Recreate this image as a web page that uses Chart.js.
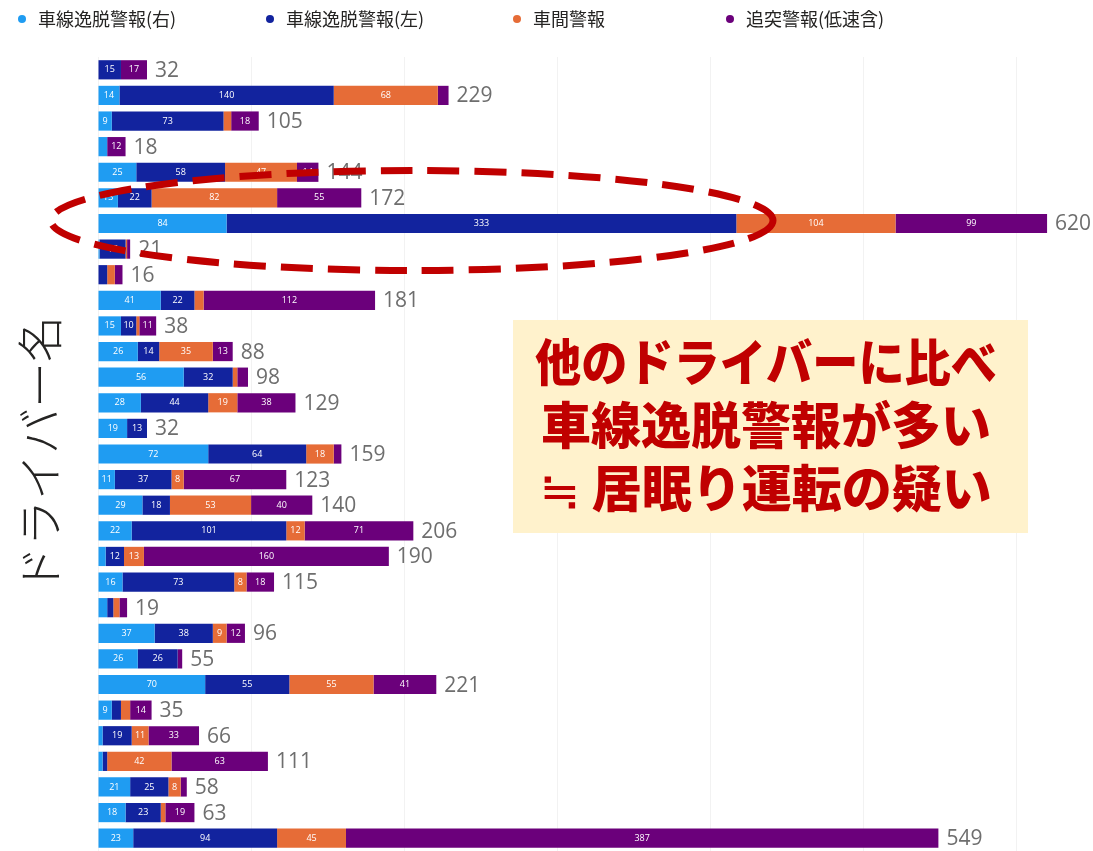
<!DOCTYPE html>
<html lang="ja">
<head>
<meta charset="utf-8">
<script src="https://cdn.jsdelivr.net/npm/chart.js@4.4.1/dist/chart.umd.min.js"></script>
<style>
    html, body { margin: 0; padding: 0; background: #fff; }
    .wrap { width: 1093px; height: 851px; position: relative; }
</style>
</head>
<body>
<div class="wrap"><canvas id="chart"></canvas></div>
<script>
const drivers = [
    'D01', 'D02', 'D03', 'D04', 'D05', 'D06', 'D07', 'D08', 'D09', 'D10',
    'D11', 'D12', 'D13', 'D14', 'D15', 'D16', 'D17', 'D18', 'D19', 'D20',
    'D21', 'D22', 'D23', 'D24', 'D25', 'D26', 'D27', 'D28', 'D29', 'D30', 'D31',
];

const laneRight = [0, 14, 9, 6, 25, 13, 84, 1, 0, 41, 15, 26, 56, 28, 19, 72, 11, 29, 22, 5, 16, 6, 37, 26, 70, 9, 3, 3, 21, 18, 23];
const laneLeft = [15, 140, 73, 0, 58, 22, 333, 17, 6, 22, 10, 14, 32, 44, 13, 64, 37, 18, 101, 12, 73, 4, 38, 26, 55, 6, 19, 3, 25, 23, 94];
const headway = [0, 68, 5, 0, 47, 82, 104, 1, 5, 6, 2, 35, 3, 19, 0, 18, 8, 53, 12, 13, 8, 4, 9, 0, 55, 6, 11, 42, 8, 3, 45];
const collision = [17, 7, 18, 12, 14, 55, 99, 2, 5, 112, 11, 13, 7, 38, 0, 5, 67, 40, 71, 160, 18, 5, 12, 3, 41, 14, 33, 63, 4, 19, 387];

const seriesNames = ['車線逸脱警報(右)', '車線逸脱警報(左)', '車間警報', '追突警報(低速含)'];
const noteLines = ['他のドライバーに比べ', '車線逸脱警報が多い', '≒ 居眠り運転の疑い'];
const highlightIndex = 6;

const colors = {
    laneRight: '#1f9cf2',
    laneLeft: '#12239e',
    headway: '#e66c37',
    collision: '#6b007b',
    total: '#6e6e6e',
    note: '#c00000',
    noteBg: '#fff2cc',
};

// legend row drawn on the canvas so the item spacing matches the report
const legendRow = {
    id: 'legendRow',
    afterDraw(chart) {
        const { ctx } = chart;
        const xs = [22, 270, 517, 730];
        ctx.save();
        ctx.font = '18px "Noto Sans CJK JP"';
        ctx.textBaseline = 'middle';
        chart.data.datasets.forEach((ds, i) => {
            ctx.fillStyle = ds.backgroundColor;
            ctx.beginPath();
            ctx.arc(xs[i], 19, 4, 0, Math.PI * 2);
            ctx.fill();
            ctx.fillStyle = '#252423';
            ctx.fillText(ds.label, xs[i] + 16, 19);
        });
        ctx.restore();
    },
};

const segmentLabels = {
    id: 'segmentLabels',
    afterDatasetsDraw(chart) {
        const { ctx } = chart;
        ctx.save();
        ctx.font = '9px "Open Sans"';
        ctx.fillStyle = '#fff';
        ctx.textAlign = 'center';
        ctx.textBaseline = 'middle';
        chart.data.datasets.forEach((ds, di) => {
            chart.getDatasetMeta(di).data.forEach((bar, i) => {
                const v = ds.data[i];
                if (v < 8) return;
                ctx.fillText(String(v), (bar.x + bar.base) / 2, bar.y);
            });
        });

        // totals
        const last = chart.getDatasetMeta(chart.data.datasets.length - 1);
        ctx.font = '21px "Open Sans"';
        ctx.fillStyle = colors.total;
        ctx.textAlign = 'left';
        last.data.forEach((bar, i) => {
            const sum = chart.data.datasets.reduce((acc, ds) => acc + ds.data[i], 0);
            ctx.fillText(String(sum), bar.x + 8, bar.y + 1);
        });
        ctx.restore();
    },
};

const callout = {
    id: 'callout',
    afterDraw(chart) {
        const { ctx } = chart;
        const bar = chart.getDatasetMeta(0).data[highlightIndex];
        ctx.save();

        // note box
        ctx.fillStyle = colors.noteBg;
        ctx.fillRect(513, 320, 515, 213);
        ctx.fillStyle = colors.note;
        ctx.font = '900 50px "Noto Sans CJK JP"';
        ctx.textAlign = 'center';
        ctx.textBaseline = 'middle';
        const widths = [462, 472, 458];
        const ys = [362, 425, 488];
        noteLines.forEach((line, i) => {
            ctx.fillText(line, 766, ys[i], widths[i]);
        });

        // dashed ellipse round the highlighted driver
        ctx.strokeStyle = colors.note;
        ctx.lineWidth = 7;
        ctx.setLineDash([32, 15]);
        ctx.beginPath();
        ctx.ellipse(412, bar.y - 3, 361, 50, 0, 0, Math.PI * 2);
        ctx.stroke();
        ctx.restore();
    },
};

new Chart(document.getElementById('chart'), {
    type: 'bar',
    data: {
        labels: drivers,
        datasets: [
            { label: seriesNames[0], data: laneRight, backgroundColor: colors.laneRight },
            { label: seriesNames[1], data: laneLeft, backgroundColor: colors.laneLeft },
            { label: seriesNames[2], data: headway, backgroundColor: colors.headway },
            { label: seriesNames[3], data: collision, backgroundColor: colors.collision },
        ],
    },
    options: {
        indexAxis: 'y',
        responsive: true,
        maintainAspectRatio: false,
        animation: false,
        layout: { padding: { top: 57, left: 0, right: 0, bottom: 0 } },
        datasets: {
            bar: { barPercentage: 0.75, categoryPercentage: 1, borderWidth: 0 },
        },
        plugins: {
            legend: { display: false },
            tooltip: { enabled: false },
        },
        scales: {
            x: {
                stacked: true,
                position: 'top',
                min: 0,
                max: 650,
                ticks: { display: false, stepSize: 100 },
                grid: { color: 'rgba(0, 0, 0, 0.05)', drawTicks: false },
                border: { display: false },
                afterFit: (scale) => { scale.height = 0; },
            },
            y: {
                stacked: true,
                ticks: { display: false },
                grid: { display: false, drawTicks: false },
                border: { display: false },
                title: {
                    display: true,
                    text: 'ドライバー名',
                    color: '#252423',
                    font: { family: '"Noto Sans CJK JP"', size: 46, weight: 300 },
                    padding: { top: 12, bottom: 0 },
                },
                afterFit: (scale) => { scale.width = 98; },
            },
        },
    },
    plugins: [legendRow, segmentLabels, callout],
});
</script>
</body>
</html>
